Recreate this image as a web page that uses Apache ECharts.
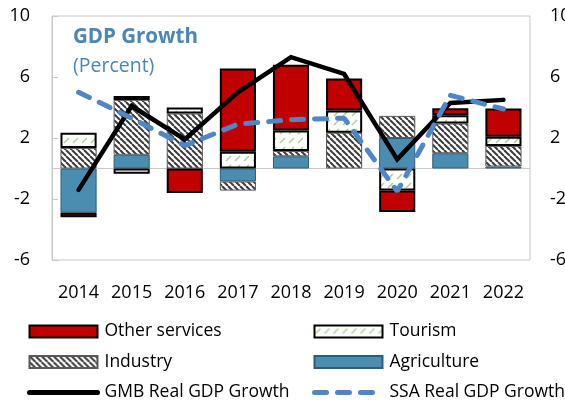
<!DOCTYPE html>
<html>
<head>
<meta charset="utf-8">
<script src="https://cdn.jsdelivr.net/npm/echarts@6/dist/echarts.min.js"></script>
<style>
  html, body { margin: 0; padding: 0; background: #fff; }
  #chart { width: 565px; height: 403px; }
</style>
</head>
<body>
<div id="chart"></div>
<script>
// Sector contributions to real GDP growth (percentage points) and headline growth rates
const years = ['2014', '2015', '2016', '2017', '2018', '2019', '2020', '2021', '2022'];
const agriculture   = [-2.9, 0.9, null, -0.85, 0.8, null, 2.0, 1.0, 0.13];
const industry      = [1.35, 3.6, 3.6, -0.6, 0.35, 2.35, 1.45, 1.95, 1.35];
const tourism       = [1.0, -0.35, 0.4, 1.1, 1.35, 1.45, -1.45, 0.55, 0.6];
const otherServices = [-0.3, 0.25, -1.6, 5.45, 4.3, 2.1, -1.4, 0.45, 1.85];
const gmbGrowth     = [-1.4, 4.1, 1.9, 5.0, 7.3, 6.2, 0.6, 4.3, 4.5];
const ssaGrowth     = [5.0, 3.3, 1.5, 2.9, 3.2, 3.3, -1.5, 4.8, 3.9];
const yTicks        = [-6, -2, 2, 6, 10];

const FONT = '"Open Sans", "Noto Sans", sans-serif';

// Hatch fills
function hatch(size, bg, draw) {
  const c = document.createElement('canvas');
  c.width = size; c.height = size;
  const g = c.getContext('2d');
  g.fillStyle = bg;
  g.fillRect(0, 0, size, size);
  draw(g, size);
  return { image: c, repeat: 'repeat' };
}
const industryFill = hatch(6, '#ffffff', (g, s) => {
  g.strokeStyle = '#3b3b3b';
  g.lineWidth = 2;
  for (const x0 of [-s, 0, s]) {
    g.beginPath(); g.moveTo(x0, 0); g.lineTo(x0 + s, s); g.stroke();
  }
});
const tourismFill = hatch(9, '#ffffff', (g, s) => {
  g.strokeStyle = '#a9d18e';
  g.lineWidth = 1.4;
  for (const x0 of [-s, 0, s]) {
    g.beginPath(); g.moveTo(x0 + 1, s - 1); g.lineTo(x0 + s - 3, 3); g.stroke();
  }
});

const chart = echarts.init(document.getElementById('chart'), null, { renderer: 'canvas' });

const barCommon = { type: 'bar', stack: 'gdp', barWidth: '68%', xAxisIndex: 0, yAxisIndex: 0 };
// line entries in the legend show only the stroke
const plainLineIcon = { color: 'rgba(0,0,0,0)', borderWidth: 0 };
const legendText = { fontFamily: FONT, fontSize: 17.5, color: '#000', lineHeight: 19, padding: [0, 0, 0, 2] };
const legendCommon = {
  orient: 'vertical', top: 322, padding: 0,
  itemWidth: 68, itemHeight: 12, itemGap: 11.5,
  lineStyle: { width: 5 },
  textStyle: legendText
};

chart.setOption({
  animation: false,
  textStyle: { fontFamily: FONT },
  title: [
    { text: 'GDP Growth', left: 73, top: 27, padding: 0,
      textStyle: { fontFamily: FONT, fontSize: 20.5, fontWeight: 'bold', color: '#4a87b5' } },
    { text: '(Percent)', left: 73, top: 56, padding: 0,
      textStyle: { fontFamily: FONT, fontSize: 19.5, fontWeight: 'normal', color: '#4a87b5' } }
  ],
  grid: {
    left: 52, right: 35, top: 16, bottom: 143,
    outerBoundsMode: 'none', containLabel: false,
    show: true, borderColor: '#c8c8c8', borderWidth: 1, backgroundColor: 'transparent'
  },
  legend: [
    Object.assign({ left: 27,
      data: [{ name: 'Other services', icon: 'rect' }, { name: 'Industry', icon: 'rect' },
             { name: 'GMB Real GDP Growth', itemStyle: plainLineIcon }] }, legendCommon),
    Object.assign({ left: 312,
      data: [{ name: 'Tourism', icon: 'rect' }, { name: 'Agriculture', icon: 'rect' },
             { name: 'SSA Real GDP Growth', itemStyle: plainLineIcon }] }, legendCommon)
  ],
  xAxis: [
    {
      type: 'category', data: years, position: 'bottom',
      axisLine: { onZero: false, show: false },
      axisTick: { show: false },
      axisLabel: { fontFamily: FONT, fontSize: 18, color: '#000', margin: 24, interval: 0 }
    },
    {
      // zero reference line
      type: 'category', data: years, position: 'bottom',
      axisLine: { onZero: true, lineStyle: { color: '#c8c8c8', width: 1 } },
      axisTick: { show: false }, axisLabel: { show: false }
    }
  ],
  yAxis: [
    {
      type: 'value', min: -6, max: 10, position: 'left',
      axisLine: { show: true, lineStyle: { color: '#c8c8c8' } },
      axisTick: { show: true, inside: true, length: 6, customValues: yTicks, lineStyle: { color: '#c8c8c8' } },
      axisLabel: { fontFamily: FONT, fontSize: 18, color: '#000', margin: 22, customValues: yTicks },
      splitLine: { show: false }
    },
    {
      type: 'value', min: -6, max: 10, position: 'right',
      axisLine: { show: false }, axisTick: { show: false },
      axisLabel: { fontFamily: FONT, fontSize: 18, color: '#000', margin: 20, customValues: yTicks },
      splitLine: { show: false }
    }
  ],
  series: [
    Object.assign({ name: 'Agriculture', data: agriculture,
      itemStyle: { color: '#4b8cb1', borderColor: '#2f5d78', borderWidth: 1 } }, barCommon),
    Object.assign({ name: 'Industry', data: industry,
      itemStyle: { color: industryFill, borderColor: '#595959', borderWidth: 1 } }, barCommon),
    Object.assign({ name: 'Tourism', data: tourism,
      itemStyle: { color: tourismFill, borderColor: '#000', borderWidth: 2 } }, barCommon),
    Object.assign({ name: 'Other services', data: otherServices,
      itemStyle: { color: '#c00000', borderColor: '#000', borderWidth: 2 } }, barCommon),
    {
      name: 'GMB Real GDP Growth', type: 'line', data: gmbGrowth, symbol: 'none', z: 5,
      lineStyle: { color: '#000', width: 4.5, cap: 'round', join: 'miter' },
      itemStyle: { color: '#000' }
    },
    {
      name: 'SSA Real GDP Growth', type: 'line', data: ssaGrowth, symbol: 'none', z: 6,
      lineStyle: { color: '#4f86c6', width: 5, type: [12, 11], cap: 'round' },
      itemStyle: { color: '#4f86c6' }
    }
  ]
});
</script>
</body>
</html>
